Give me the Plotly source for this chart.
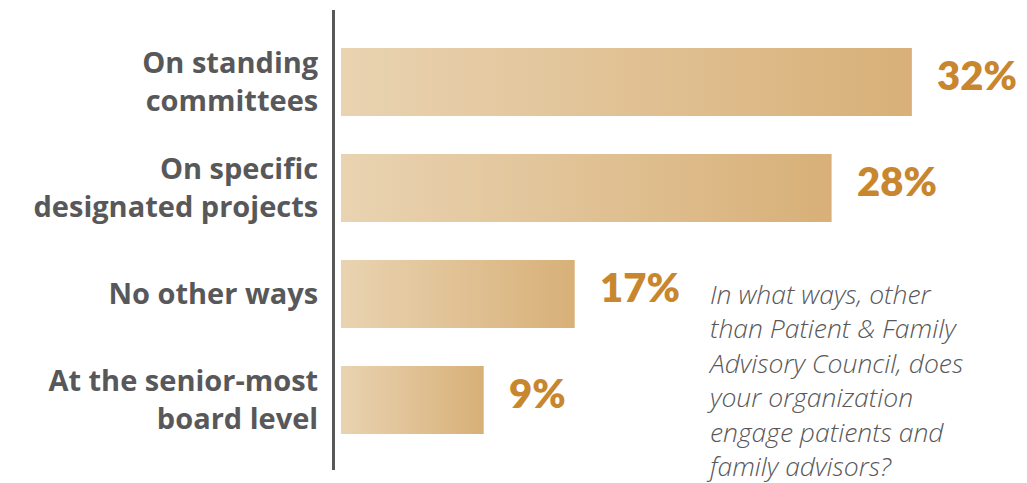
import plotly.graph_objects as go

categories = ["On standing<br>committees", "On specific<br>designated projects",
              "No other ways", "At the senior-most<br>board level"]
value_labels = ["32%", "28%", "17%", "9%"]
# bar lengths as drawn in the picture (in % units)
bar_lengths = [32, 27.5, 13.1, 8.0]
question = ("<i>In what ways, other<br>than Patient & Family<br>Advisory Council, does"
            "<br>your organization<br>engage patients and<br>family advisors?</i>")

W, H = 1027, 483
ML, MR, MT, MB = 335, 0, 10, 13
plot_w = W - ML - MR
plot_h = H - MT - MB
px_per_unit = 17.84
x0 = -6 / px_per_unit
x1 = x0 + plot_w / px_per_unit

half = 0.32
fig = go.Figure()
for i, v in enumerate(bar_lengths):
    fig.add_trace(go.Scatter(
        x=[0, v, v, 0, 0], y=[i - half, i - half, i + half, i + half, i - half],
        mode="lines", line=dict(width=0), fill="toself",
        fillgradient=dict(type="horizontal",
                          colorscale=[[0, "#e9d3b1"], [1, "#d8b078"]]),
        hoverinfo="skip", showlegend=False))
    fig.add_annotation(x=v, y=i, text=value_labels[i], showarrow=False,
                       xanchor="left", yanchor="middle", xshift=23, yshift=7,
                       font=dict(family="Lato", size=40, color="#c8862e", weight=800))

fig.add_annotation(xref="paper", yref="paper", x=(704 - ML) / plot_w,
                   y=1 - (274 - MT) / plot_h, xanchor="left", yanchor="top",
                   align="left", showarrow=False, text=question,
                   font=dict(family="Open Sans", size=26.5, color="#58585a", weight=300))

fig.update_layout(
    width=W, height=H, margin=dict(l=ML, r=MR, t=MT, b=MB),
    paper_bgcolor="white", plot_bgcolor="white",
    xaxis=dict(range=[x0, x1], visible=False, fixedrange=True),
    yaxis=dict(range=[3.66, -0.679], tickvals=list(range(4)), ticktext=categories,
               showgrid=False, zeroline=False, showline=True, linecolor="#58585a",
               linewidth=3, ticks="", ticklabelstandoff=8,
               tickfont=dict(family="Open Sans", size=29, color="#58585a", weight=700)),
)
fig.write_html("out.html")
